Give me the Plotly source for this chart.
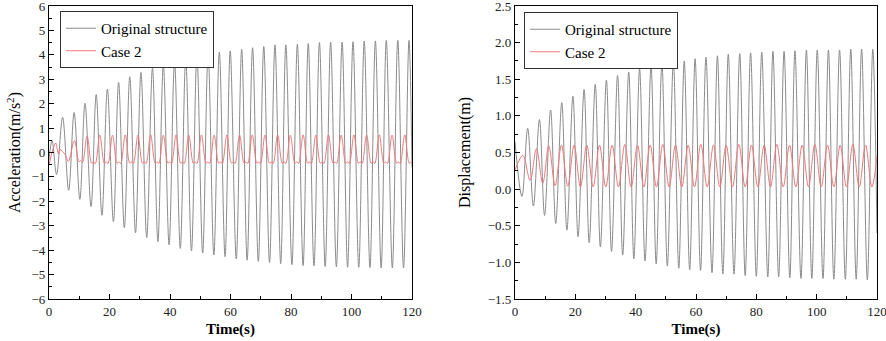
import plotly.graph_objects as go

# ---------------- Data (extrema / key points) ----------------
# Left panel: acceleration, original structure
acc_orig_t = [0.0, 1.0, 2.5,
              4.5, 6.5, 8.3, 10.2, 11.9, 13.9, 15.6, 17.5, 19.3, 21.3, 23.0, 24.9,
              26.7, 28.6, 30.4, 32.3, 34.2, 36.0, 37.8, 39.7, 41.5, 43.4, 45.2, 47.1,
              48.9, 50.8, 52.6, 54.5, 56.3, 58.2, 59.9, 61.9, 63.7, 65.5, 67.3, 69.2,
              71.0, 72.9, 74.7, 76.6, 78.3, 80.3, 82.1, 84.0, 85.7, 87.6, 89.4, 91.3,
              93.1, 95.0, 96.9, 98.7, 100.5, 102.4, 104.2, 106.1, 107.9, 109.8, 111.5,
              113.5, 115.3, 117.2, 119.0, 120.0]
acc_orig_v = [-0.3, 0.5, -0.9,
              1.44, -1.55, 1.64, -1.92, 2.02, -2.22, 2.37, -2.57, 2.60, -2.83, 2.87, -3.08,
              3.10, -3.29, 3.28, -3.48, 3.45, -3.65, 3.59, -3.78, 3.71, -3.93, 3.83, -4.03,
              3.96, -4.12, 4.04, -4.20, 4.11, -4.27, 4.16, -4.36, 4.22, -4.41, 4.29, -4.46,
              4.34, -4.50, 4.41, -4.55, 4.41, -4.59, 4.43, -4.63, 4.46, -4.64, 4.50, -4.67,
              4.52, -4.68, 4.52, -4.70, 4.54, -4.70, 4.57, -4.71, 4.57, -4.72, 4.59,
              -4.73, 4.59, -4.73, 4.59, -0.6]

# Left panel: acceleration, Case 2
acc_case_t = [0.0, 2.2, 3.1, 3.6, 5.3, 6.4,
              8.4, 9.9, 10.5, 11.1, 12.6, 14.1, 14.7, 15.3, 16.8, 18.3, 18.9, 19.5,
              21.0, 22.5, 23.1, 23.7, 25.2, 26.7, 27.3, 27.9, 29.4, 30.9, 31.5, 32.1,
              33.6, 35.1, 35.7, 36.3, 37.8, 39.3, 39.9, 40.5, 42.0, 43.5, 44.1, 44.7,
              46.2, 47.7, 48.3, 48.9, 50.4, 51.9, 52.5, 53.1, 54.6, 56.1, 56.7, 57.3,
              58.8, 60.3, 60.9, 61.5, 63.0, 64.5, 65.1, 65.7, 67.2, 68.7, 69.3, 69.9,
              71.4, 72.9, 73.5, 74.1, 75.6, 77.1, 77.7, 78.3, 79.8, 81.3, 81.9, 82.5,
              84.0, 85.5, 86.1, 86.7, 88.2, 89.7, 90.3, 90.9, 92.4, 93.9, 94.5, 95.1,
              96.6, 98.1, 98.7, 99.3, 100.8, 102.3, 102.9, 103.5, 105.0, 106.5, 107.1, 107.7,
              109.2, 110.7, 111.3, 111.9, 113.4, 114.9, 115.5, 116.1, 117.6, 119.1, 119.7, 120.0]
acc_case_v = [-0.5, 0.39, -0.06, 0.12, -0.08, -0.36,
              0.49, -0.38, -0.33, -0.40, 0.67, -0.44, -0.38, -0.46, 0.71, -0.44, -0.38, -0.45,
              0.71, -0.44, -0.38, -0.45, 0.72, -0.44, -0.38, -0.45, 0.71, -0.44, -0.38, -0.45,
              0.72, -0.44, -0.38, -0.45, 0.71, -0.44, -0.38, -0.45, 0.72, -0.44, -0.38, -0.45,
              0.71, -0.44, -0.38, -0.45, 0.72, -0.44, -0.38, -0.45, 0.71, -0.44, -0.38, -0.45,
              0.72, -0.44, -0.38, -0.45, 0.71, -0.44, -0.38, -0.45, 0.72, -0.44, -0.38, -0.45,
              0.71, -0.44, -0.38, -0.45, 0.72, -0.44, -0.38, -0.45, 0.71, -0.44, -0.38, -0.45,
              0.72, -0.44, -0.38, -0.45, 0.71, -0.44, -0.38, -0.45, 0.72, -0.44, -0.38, -0.45,
              0.71, -0.44, -0.38, -0.45, 0.72, -0.44, -0.38, -0.45, 0.71, -0.44, -0.38, -0.45,
              0.72, -0.44, -0.38, -0.45, 0.71, -0.44, -0.38, -0.45, 0.72, -0.44, -0.38, -0.42]

# Right panel: displacement, original structure
dis_orig_t = [0.0, 2.3, 4.2, 6.1, 8.1, 9.8, 11.8, 13.5, 15.5, 17.2, 19.2, 20.9, 22.9, 24.6,
              26.6, 28.3, 30.3, 32.0, 34.0, 35.7, 37.7, 39.4, 41.3, 43.1, 45.1, 46.8,
              48.7, 50.5, 52.5, 54.3, 56.1, 57.9, 59.7, 61.5, 63.3, 65.3, 67.1, 68.9,
              70.7, 72.6, 74.5, 76.3, 78.1, 80.0, 81.8, 83.8, 85.5, 87.4, 89.2, 91.1,
              92.8, 94.8, 96.6, 98.4, 100.2, 102.1, 103.9, 105.7, 107.6, 109.5, 111.3,
              113.1, 114.9, 116.8, 118.6, 120.0]
dis_orig_v = [0.65, -0.10, 0.83, -0.23, 0.95, -0.36, 1.08, -0.47, 1.18, -0.56, 1.27, -0.65, 1.36, -0.73,
              1.43, -0.79, 1.49, -0.85, 1.55, -0.90, 1.60, -0.95, 1.64, -0.98, 1.68, -1.02,
              1.71, -1.05, 1.73, -1.08, 1.75, -1.10, 1.78, -1.11, 1.80, -1.14, 1.82, -1.16,
              1.84, -1.16, 1.85, -1.18, 1.86, -1.19, 1.87, -1.20, 1.88, -1.20, 1.88, -1.21,
              1.89, -1.22, 1.90, -1.22, 1.90, -1.22, 1.90, -1.23, 1.90, -1.23, 1.91,
              -1.23, 1.91, -1.24, 1.91, -0.6]

# Right panel: displacement, Case 2
dis_case_t = [0.0, 2.6, 5.0, 7.1, 9.2, 11.2, 13.3, 15.4, 17.5, 19.6, 21.7, 23.8, 25.9,
              28.0, 30.1, 32.2, 34.3, 36.4, 38.5, 40.6, 42.7, 44.8, 46.9, 49.0, 51.1,
              53.2, 55.3, 57.4, 59.5, 61.6, 63.7, 65.8, 67.9, 70.0, 72.1, 74.2, 76.3,
              78.4, 80.5, 82.6, 84.7, 86.8, 88.9, 91.0, 93.1, 95.2, 97.3, 99.4, 101.5,
              103.6, 105.7, 107.8, 109.9, 112.0, 114.1, 116.2, 118.3, 120.0]
dis_case_v = [0.26, 0.46, 0.12, 0.55, 0.08, 0.59, 0.05, 0.60, 0.04, 0.60, 0.03, 0.60, 0.03,
              0.60, 0.03, 0.60, 0.03, 0.61, 0.03, 0.60, 0.03, 0.60, 0.03, 0.61, 0.03,
              0.60, 0.03, 0.60, 0.03, 0.61, 0.03, 0.60, 0.03, 0.60, 0.03, 0.61, 0.03,
              0.60, 0.03, 0.60, 0.03, 0.61, 0.03, 0.60, 0.03, 0.60, 0.03, 0.61, 0.03,
              0.60, 0.03, 0.60, 0.03, 0.61, 0.03, 0.60, 0.03, 0.45]

series_names = ["Original structure", "Case 2"]
x_ticks = [0, 20, 40, 60, 80, 100, 120]

# ---------------- Figure ----------------
GRAY = "#8c8c8c"
RED = "#f07878"
FONT = "Liberation Serif, Times New Roman, serif"

fig = go.Figure()
fig.add_trace(go.Scatter(x=acc_orig_t, y=acc_orig_v, mode="lines", name=series_names[0],
                         line=dict(color=GRAY, width=1, shape="spline", smoothing=1.0),
                         xaxis="x", yaxis="y", legend="legend"))
fig.add_trace(go.Scatter(x=acc_case_t, y=acc_case_v, mode="lines", name=series_names[1],
                         line=dict(color=RED, width=1, shape="spline", smoothing=1.0),
                         xaxis="x", yaxis="y", legend="legend"))
fig.add_trace(go.Scatter(x=dis_orig_t, y=dis_orig_v, mode="lines", name=series_names[0],
                         line=dict(color=GRAY, width=1, shape="spline", smoothing=1.0),
                         xaxis="x2", yaxis="y2", legend="legend2"))
fig.add_trace(go.Scatter(x=dis_case_t, y=dis_case_v, mode="lines", name=series_names[1],
                         line=dict(color=RED, width=1, shape="spline", smoothing=1.0),
                         xaxis="x2", yaxis="y2", legend="legend2"))

W, H = 886, 341
L1, R1 = 49, 412
L2, R2 = 515, 877
TOP, BOT = 6, 299

def xd(a, b):
    return [a / W, b / W]

ydom = [1 - BOT / H, 1 - TOP / H]

def axis_common():
    return dict(
        showline=True, linecolor="black", linewidth=1.3, mirror=True,
        ticks="inside", ticklen=5, tickwidth=1, tickcolor="black",
        showgrid=False, zeroline=False, automargin=False,
        ticklabeloverflow="allow",
        tickfont=dict(family=FONT, size=13, color="#222"),
    )

fig.update_layout(
    width=W, height=H,
    margin=dict(l=0, r=0, t=0, b=0, autoexpand=False),
    paper_bgcolor="white", plot_bgcolor="white",
    font=dict(family=FONT, color="black"),
    xaxis=dict(domain=xd(L1, R1), range=[0, 120], tickvals=x_ticks, anchor="y",
               minor=dict(dtick=10, ticks="inside", ticklen=3, tickcolor="black"),
               title=dict(text="<b>Time(s)</b>", font=dict(family=FONT, size=15), standoff=5),
               **axis_common()),
    yaxis=dict(domain=ydom, range=[-6, 6], dtick=1, anchor="x",
               minor=dict(dtick=0.5, ticks="inside", ticklen=3, tickcolor="black"),
               title=dict(text="Acceleration(m/s<sup>2</sup>)", font=dict(family=FONT, size=16), standoff=6),
               **axis_common()),
    xaxis2=dict(domain=xd(L2, R2), range=[0, 120], tickvals=x_ticks, anchor="y2",
                minor=dict(dtick=10, ticks="inside", ticklen=3, tickcolor="black"),
                title=dict(text="<b>Time(s)</b>", font=dict(family=FONT, size=15), standoff=5),
                **axis_common()),
    yaxis2=dict(domain=ydom, range=[-1.5, 2.5], dtick=0.5, tickformat=".1f", anchor="x2",
                minor=dict(dtick=0.25, ticks="inside", ticklen=3, tickcolor="black"),
                title=dict(text="Displacement(m)", font=dict(family=FONT, size=16), standoff=13),
                **axis_common()),
    legend=dict(x=60 / W, y=1 - 11 / H,
                xanchor="left", yanchor="top", xref="paper", yref="paper",
                bordercolor="#333", borderwidth=1, bgcolor="white",
                font=dict(family=FONT, size=15, color="black"),
                tracegroupgap=0, itemwidth=30),
    legend2=dict(x=524 / W, y=1 - 12 / H,
                 xanchor="left", yanchor="top", xref="paper", yref="paper",
                 bordercolor="#333", borderwidth=1, bgcolor="white",
                 font=dict(family=FONT, size=15, color="black"),
                 tracegroupgap=0, itemwidth=30),
    showlegend=True,
)

fig.write_html("out.html", config={"displayModeBar": False},
               post_script="document.body.style.margin='0';")
